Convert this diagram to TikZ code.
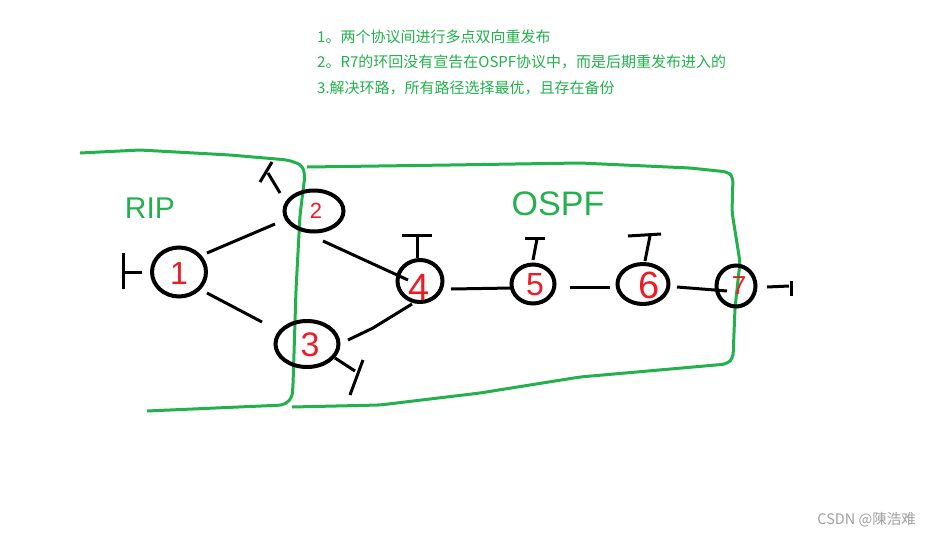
\documentclass[tikz,border=0pt]{standalone}
\usepackage{fontspec}
\newfontfamily\cjk{Noto Sans CJK SC}
\newfontfamily\hand{Liberation Sans}
\usetikzlibrary{calc,shapes.geometric}
\definecolor{zold}{HTML}{22B14C}
\definecolor{piros}{HTML}{ED1C24}
\tikzset{
  rtr/.style={ellipse,draw,line width=4pt,inner sep=0pt},
  lnk/.style={line width=3pt},
  area/.style={draw=zold,line width=3pt,rounded corners=5pt},
  num/.style={text=piros,inner sep=0pt,font=\hand},
  note/.style={text=zold,anchor=west,inner sep=0pt,font=\cjk\fontsize{15}{18}\selectfont},
  tag/.style={text=zold,inner sep=0pt,font=\hand\fontsize{30}{30}\selectfont},
}
\begin{document}
\begin{tikzpicture}[x=1pt,y=-1pt]
  \useasboundingbox (0,0) rectangle (930,536);
  % notes
  \node[note] (l1) at (317,37) {1。两个协议间进行多点双向重发布};
  \node[note] (l2) at (317,62) {2。R7的环回没有宣告在OSPF协议中，而是后期重发布进入的};
  \node[note] (l3) at (317,88) {3.解决环路，所有路径选择最优，且存在备份};
  % areas
  \draw[area] (80,153) -- (140,150) -- (230,155) -- (288,160) -- (302,165) -- (305,175) -- (300,215)
    -- (296,290) -- (293,385) -- (292,398) -- (284,405) -- (147,411);
  \draw[area] (307,167) -- (450,165) -- (580,163) -- (690,168) -- (728,172) -- (733,177) -- (732,212)
    -- (740,262) -- (735,308) -- (733,358) -- (727,364) -- (580,377) -- (480,393) -- (380,405) -- (292,407);
  \node[tag] (rip) at (150,208) {RIP};
  \node[tag,font=\hand\fontsize{34}{34}\selectfont] (ospf) at (558,204) {OSPF};
  % routers
  \foreach \n/\x/\y/\w/\h in {1/179/272/54/49, 2/314/211/59/41, 3/307/344/63/46, 4/420/281/45/42,
      5/533/284/43/39, 6/643/284/51/40, 7/736/286/39/41} {
    \node[rtr,minimum width=\w,minimum height=\h] (n\n) at (\x,\y) {};
  }
  % links
  \draw[lnk] ($(n1)+(28,-19)$) -- ($(n2)+(-39,13)$);
  \draw[lnk] ($(n1)+(28,21)$) -- ($(n3)+(-45,-22)$);
  \draw[lnk] ($(n2)+(9,30)$) -- ($(n4)+(-12,-1)$);
  \draw[lnk] ($(n3)+(41,-4)$) -- ($(n3)+(66,-16)$) -- ($(n4)+(-8,23)$);
  \draw[lnk] ($(n4)+(31,8)$) -- ($(n5)+(-21,4)$);
  \draw[lnk] ($(n5)+(37,3)$) -- ($(n6)+(-33,3)$);
  \draw[lnk] ($(n6)+(34,3)$) -- ($(n7)+(-9,5)$);
  % loopbacks
  \foreach \n/\sx/\sy/\tx/\ty/\ax/\ay/\bx/\by in {1/-37/0/123/272/123/253/123/289,
      2/-34/-18/268/173/260/182/272/162, 3/28/14/355/371/363/360/350/395,
      4/-3/-23/417/236/402/235/432/235, 5/0/-24/537/239/525/238/545/238,
      6/2/-23/650/236/628/236/661/234, 7/31/1/789/286/791/281/791/296} {
    \coordinate (t\n) at (\tx,\ty);
    \draw[lnk] ($(n\n)+(\sx,\sy)$) -- (t\n);
    \draw[lnk] (\ax,\ay) -- (\bx,\by);
  }
  % numbers
  \foreach \n/\dx/\dy/\fs in {1/179/273/32, 2/316/211/22, 3/310/345/34, 4/419/287/38,
      5/535/285/32, 6/649/285/38, 7/739/286/26}
    \node[num,font=\hand\fontsize{\fs}{\fs}\selectfont] (d\n) at (\dx,\dy) {\n};
  \node[text=gray!75,anchor=east,inner sep=0pt,font=\cjk\fontsize{14.5}{16}\selectfont] (wm) at (916,520) {CSDN @陳浩难};
\end{tikzpicture}
\end{document}
